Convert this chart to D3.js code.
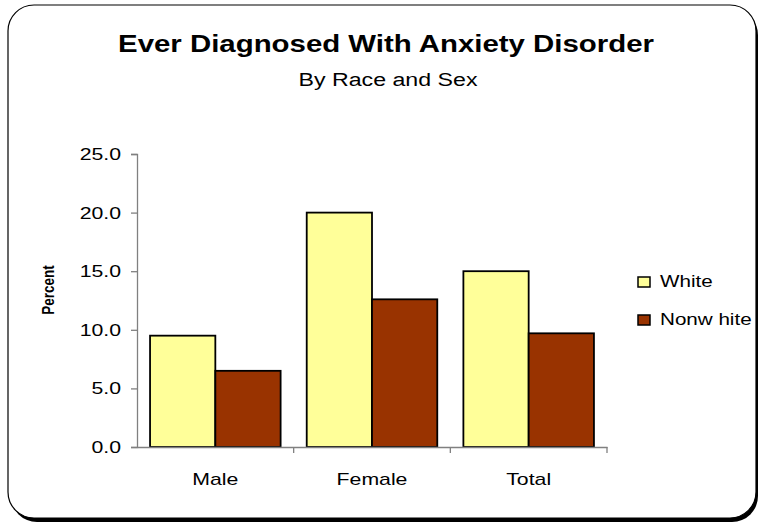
<!DOCTYPE html>
<html>
<head>
<meta charset="utf-8">
<script src="https://cdn.jsdelivr.net/npm/d3@7"></script>
<style>
  body { margin: 0; background: #fff; }
  text { font-family: "Liberation Sans", Arial, sans-serif; }
</style>
</head>
<body>
<div id="chart"></div>
<script>
const categories = ["Male", "Female", "Total"];
const seriesNames = ["White", "Nonwhite"];
const legendLabels = ["White", "Nonw hite"];
const whiteValues = [9.5, 20.0, 15.0];
const nonwhiteValues = [6.5, 12.6, 9.7];
const yTicks = [0, 5, 10, 15, 20, 25];
const colors = ["#ffff99", "#993300"];

const width = 761, height = 525;
const font = "Liberation Sans, Arial, sans-serif";
const svg = d3.select("#chart").append("svg")
    .attr("width", width)
    .attr("height", height);

// the source picture was widened, so the text glyphs look stretched sideways
function stretch(sel, k) {
    sel.each(function() {
        const t = d3.select(this);
        const x0 = +t.attr("x") || 0, y0 = +t.attr("y") || 0;
        const prev = t.attr("transform") || "";
        t.attr("x", 0).attr("y", 0)
            .attr("transform", `${prev} translate(${x0},${y0}) scale(${k},1)`);
    });
}

// frame with shadow
svg.append("rect")
    .attr("x", 11).attr("y", 9)
    .attr("width", 747).attr("height", 513)
    .attr("rx", 26)
    .attr("fill", "#000");
svg.append("rect")
    .attr("x", 8).attr("y", 5)
    .attr("width", 748).attr("height", 513)
    .attr("rx", 26)
    .attr("fill", "#fff")
    .attr("stroke", "#000")
    .attr("stroke-width", 1.2);

svg.append("text")
    .attr("x", 386).attr("y", 52)
    .attr("text-anchor", "middle")
    .attr("font-size", 24.5).attr("font-weight", "bold")
    .text("Ever Diagnosed With Anxiety Disorder")
    .call(stretch, 1.2);
svg.append("text")
    .attr("x", 388).attr("y", 85.5)
    .attr("text-anchor", "middle")
    .attr("font-size", 19)
    .text("By Race and Sex")
    .call(stretch, 1.22);

const plot = { left: 137, right: 607, top: 154, bottom: 447 };

const x = d3.scaleBand()
    .domain(categories)
    .range([plot.left, plot.right])
    .paddingInner(0).paddingOuter(0);
const xs = d3.scaleBand()
    .domain(seriesNames)
    .range([0, x.bandwidth()])
    .paddingInner(0).paddingOuter(0.2);
const y = d3.scaleLinear().domain([0, 25]).range([plot.bottom, plot.top]);

const rows = categories.map((c, i) => ({ cat: c, vals: [whiteValues[i], nonwhiteValues[i]] }));

const groups = svg.append("g").selectAll("g")
    .data(rows)
    .join("g")
    .attr("transform", d => `translate(${x(d.cat)},0)`);

groups.selectAll("rect")
    .data(d => d.vals.map((v, j) => ({ key: seriesNames[j], v, j })))
    .join("rect")
    .attr("x", d => xs(d.key))
    .attr("y", d => y(d.v))
    .attr("width", xs.bandwidth())
    .attr("height", d => y(0) - y(d.v))
    .attr("fill", d => colors[d.j])
    .attr("stroke", "#000")
    .attr("stroke-width", 1.8);

// y axis
const yAxis = svg.append("g")
    .attr("transform", `translate(${plot.left},0)`)
    .call(d3.axisLeft(y).tickValues(yTicks).tickSize(6).tickPadding(10).tickFormat(d3.format(".1f")));
yAxis.select(".domain").attr("stroke", "#808080").attr("stroke-width", 1.3);
yAxis.selectAll(".tick line").attr("stroke", "#808080").attr("stroke-width", 1.3);
yAxis.selectAll("text").attr("font-size", 17).attr("fill", "#000")
    .attr("font-family", font)
    .call(stretch, 1.25);

// x axis
const xAxis = svg.append("g")
    .attr("transform", `translate(0,${plot.bottom})`)
    .call(d3.axisBottom(x).tickSize(0).tickPadding(26));
xAxis.select(".domain").attr("stroke", "#808080").attr("stroke-width", 1.3);
xAxis.selectAll("text").attr("font-size", 17).attr("fill", "#000")
    .attr("font-family", font)
    .call(stretch, 1.25);
xAxis.selectAll(".sep")
    .data(categories.slice(1).concat(["end"]))
    .join("line")
    .attr("class", "sep")
    .attr("x1", (d, i) => i < 2 ? x(d) : plot.right)
    .attr("x2", (d, i) => i < 2 ? x(d) : plot.right)
    .attr("y1", 0).attr("y2", 6)
    .attr("stroke", "#808080").attr("stroke-width", 1.3);

svg.append("text")
    .attr("transform", "translate(54,290) rotate(-90) scale(1,1.2)")
    .attr("text-anchor", "middle")
    .attr("font-size", 13.5).attr("font-weight", "bold")
    .text("Percent");

// legend
const legend = svg.append("g").selectAll("g")
    .data(legendLabels)
    .join("g")
    .attr("transform", (d, i) => `translate(638,${277 + i * 38})`);
legend.append("rect")
    .attr("width", 12).attr("height", 10)
    .attr("fill", (d, i) => colors[i])
    .attr("stroke", "#000").attr("stroke-width", 1.5);
legend.append("text")
    .attr("x", 22).attr("y", 10)
    .attr("font-size", 16.5)
    .text(d => d)
    .call(stretch, 1.25);
</script>
</body>
</html>
